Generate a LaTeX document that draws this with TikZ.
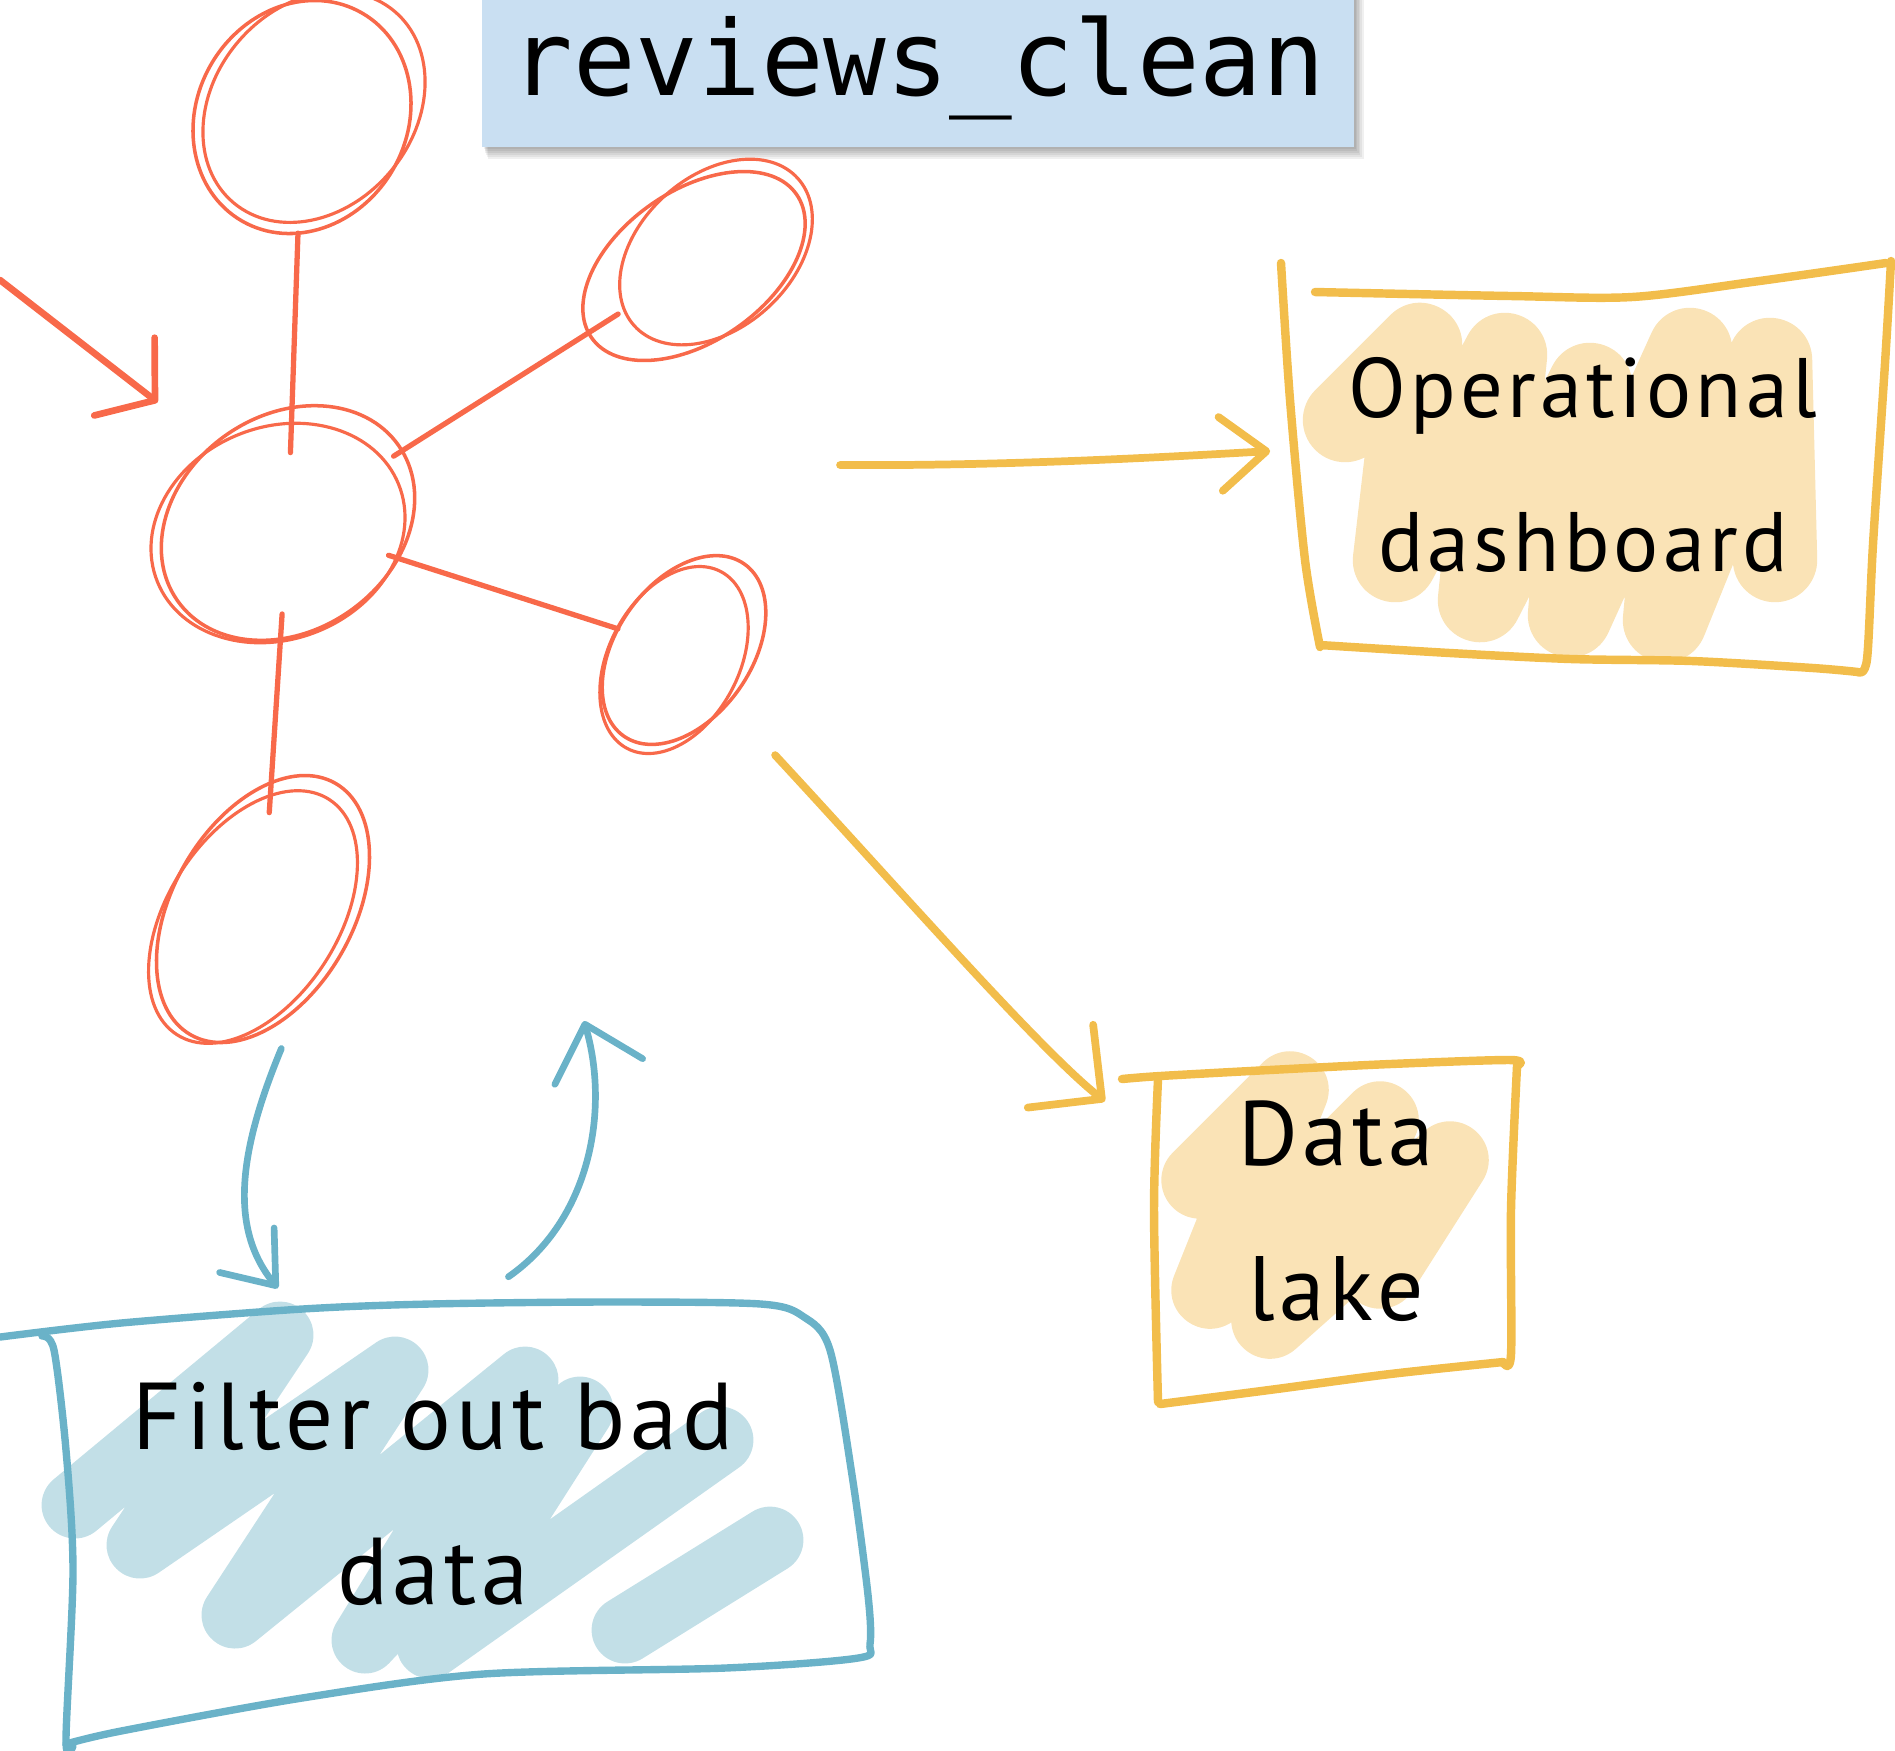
\documentclass[tikz,border=0pt]{standalone}
\usepackage{fontspec}
\setmainfont{PT Sans}[LetterSpace=5]
\newfontfamily\codefont{DejaVu Sans Mono}
\usetikzlibrary{arrows.meta,shapes.geometric}
\definecolor{sred}{HTML}{F8694A}
\definecolor{syel}{HTML}{F2BD4B}
\definecolor{sblu}{HTML}{6AB2C8}
\definecolor{pyel}{HTML}{FAE3B6}
\definecolor{pblu}{HTML}{C2DFE7}
\definecolor{tblu}{HTML}{C9DFF2}
\begin{document}
\begin{tikzpicture}[x=0.01cm,y=-0.01cm,
  circ/.style={ellipse, draw=sred, line width=1pt, inner sep=0pt, outer sep=0pt},
  circtwo/.style={draw=sred, line width=0.9pt},
  redge/.style={draw=sred, line width=1.5pt, line cap=round},
  rarrow/.style={draw=sred, line width=1.9pt, line cap=round, line join=round},
  yarrow/.style={draw=syel, line width=2.2pt, line cap=round, line join=round},
  barrow/.style={draw=sblu, line width=1.9pt, line cap=round, line join=round},
  ybox/.style={draw=syel, line width=2.4pt, line cap=round, line join=round},
  bbox/.style={draw=sblu, line width=2.1pt, line cap=round, line join=round},
  yscrib/.style={draw=pyel, line cap=round, line join=round},
  bscrib/.style={draw=pblu, line cap=round, line join=round},
  shadowpiece/.style={fill=black, opacity=0.06},
  lbl/.style={align=center, inner sep=0pt, text=black},
  titlebox/.style={fill=tblu, inner sep=0pt, font=\codefont\fontsize{29.6}{32}\selectfont}
]
\useasboundingbox (0,0) rectangle (1895,1750);

% ---------- scribble fills ----------
\draw[yscrib, line width=24pt] (1345,420) -- (1420,345) -- (1395,560) -- (1505,355) -- (1480,600) -- (1590,385) -- (1570,615) -- (1690,350) -- (1665,620) -- (1770,360) -- (1775,560);
\draw[yscrib, line width=22pt] (1200,1180) -- (1290,1090) -- (1210,1290) -- (1380,1120) -- (1270,1320) -- (1450,1160) -- (1380,1270);
\draw[bscrib, line width=19pt] (75,1505) -- (280,1335) -- (140,1545) -- (395,1370) -- (235,1615) -- (525,1380) -- (365,1640) -- (580,1410) -- (430,1645) -- (720,1440);
\draw[bscrib, line width=19pt] (625,1630) -- (770,1540);

% ---------- title ----------
\foreach \s in {2,4,...,12} {
  \fill[shadowpiece] (483+\s*0.4,-12) rectangle (1354+\s*0.8,147+\s);
}
\node[titlebox, minimum width=8.71cm, minimum height=1.59cm] (title) at (918,67.5) {reviews\_clean};

% ---------- red graph ----------
\node[circ, minimum width=2.4cm, minimum height=2.1cm, rotate=60] (Ctop) at (302,117) {};
\node[circ, minimum width=2.7cm, minimum height=2.15cm, rotate=35] (Cmid) at (288,523) {};
\node[circ, minimum width=2.5cm, minimum height=1.5cm, rotate=35] (Cur) at (694,266) {};
\node[circ, minimum width=2.1cm, minimum height=1.35cm, rotate=55] (Clr) at (684,650) {};
\node[circ, minimum width=2.9cm, minimum height=1.8cm, rotate=60] (Cbot) at (263,909) {};

\draw[circtwo] ([shift={(12,-10)}]Ctop.center) ellipse [x radius=1.25cm, y radius=1.0cm, rotate=50];
\draw[circtwo] ([shift={(-10,10)}]Cmid.center) ellipse [x radius=1.3cm, y radius=1.06cm, rotate=22];
\draw[circtwo] ([shift={(22,-14)}]Cur.center) ellipse [x radius=1.1cm, y radius=0.76cm, rotate=42];
\draw[circtwo] ([shift={(-10,10)}]Clr.center) ellipse [x radius=1.0cm, y radius=0.65cm, rotate=62];
\draw[circtwo] ([shift={(-10,8)}]Cbot.center) ellipse [x radius=1.4cm, y radius=0.85cm, rotate=57];

\draw[redge, shorten >=-0.45cm] (Ctop) -- (Cmid);
\draw[redge, shorten <=-0.1cm, shorten >=-0.35cm] (Cmid) -- (Cur);
\draw[redge, shorten <=-0.1cm] (Cmid) -- (Clr);
\draw[redge, shorten <=-0.25cm, shorten >=-0.3cm] (Cmid) -- (Cbot);

\coordinate (inS) at (0,280);
\draw[rarrow, shorten >=0.7cm, -{Straight Barb[length=11pt,width=28pt,round]}] (inS) -- (Cmid.99);

% ---------- boxes ----------
\node[lbl, minimum width=5.8cm, minimum height=3.8cm, font=\fontsize{24}{44}\selectfont] (OD) at (1583,465) {Operational\\dashboard};
\node[lbl, minimum width=3.57cm, minimum height=3.1cm, font=\fontsize{26}{44}\selectfont] (DL) at (1336,1211) {Data\\lake};
\node[lbl, minimum width=8.1cm, minimum height=4.1cm, font=\fontsize{27}{44}\selectfont] (FB) at (433,1494) {Filter out bad\\data};

% Operational dashboard outline
\draw[ybox] plot[smooth] coordinates {(1281,263) (1290,400) (1305,560) (1320,647)};
\draw[ybox] plot[smooth] coordinates {(1315,292) (1511,296) (1632,297) (1752,282) (1886,263)};
\draw[ybox] plot[smooth] coordinates {(1891,261) (1885,363) (1873,544) (1867,659) (1858,672)};
\draw[ybox] plot[smooth] coordinates {(1320,645) (1450,653) (1571,659) (1692,661) (1813,668) (1858,672)};

% Data lake outline
\draw[ybox] plot[smooth] coordinates {(1122,1079) (1160,1076) (1269,1070) (1390,1064) (1511,1060) (1517,1066)};
\draw[ybox] plot[smooth] coordinates {(1517,1066) (1511,1209) (1511,1354) (1503,1362)};
\draw[ybox] plot[smooth] coordinates {(1503,1362) (1390,1374) (1269,1390) (1160,1404)};
\draw[ybox] plot[smooth] coordinates {(1158,1079) (1154,1209) (1158,1402)};

% Filter box outline
\draw[bbox] plot[smooth] coordinates {(0,1337) (121,1323) (302,1309) (429,1304) (604,1302) (761,1304) (804,1317) (830,1350) (852,1475) (868,1595) (870,1644) (858,1658) (725,1668) (483,1674) (302,1698) (121,1731) (66,1744)};
\draw[bbox] plot[smooth] coordinates {(42,1336) (54,1350) (66,1450) (73,1571) (66,1740) (73,1746)};

% ---------- connectors ----------
\coordinate (ya1) at (840,465);
\draw[yarrow, shorten >=0.22cm, -{Straight Barb[length=13pt,width=21pt,round]}] (ya1) .. controls (1000,466) and (1150,458) .. (OD.177);
\draw[yarrow, shorten <=0.7cm, shorten >=0.66cm, -{Straight Barb[length=15pt,width=30pt,round]}] (Clr.-106) .. controls (900,890) and (1040,1050) .. (DL.159);

\draw[barrow, shorten <=0.45cm, -{Straight Barb[length=13pt,width=20pt,round]}] (Cbot.-130) .. controls (235,1160) and (232,1232) .. (FB.127);
\coordinate (upTip) at (584,1021);
\draw[barrow, shorten <=0.2cm, -{Straight Barb[length=14pt,width=26pt,round]}] (FB.74) .. controls (590,1220) and (610,1110) .. (upTip);

\end{tikzpicture}
\end{document}
